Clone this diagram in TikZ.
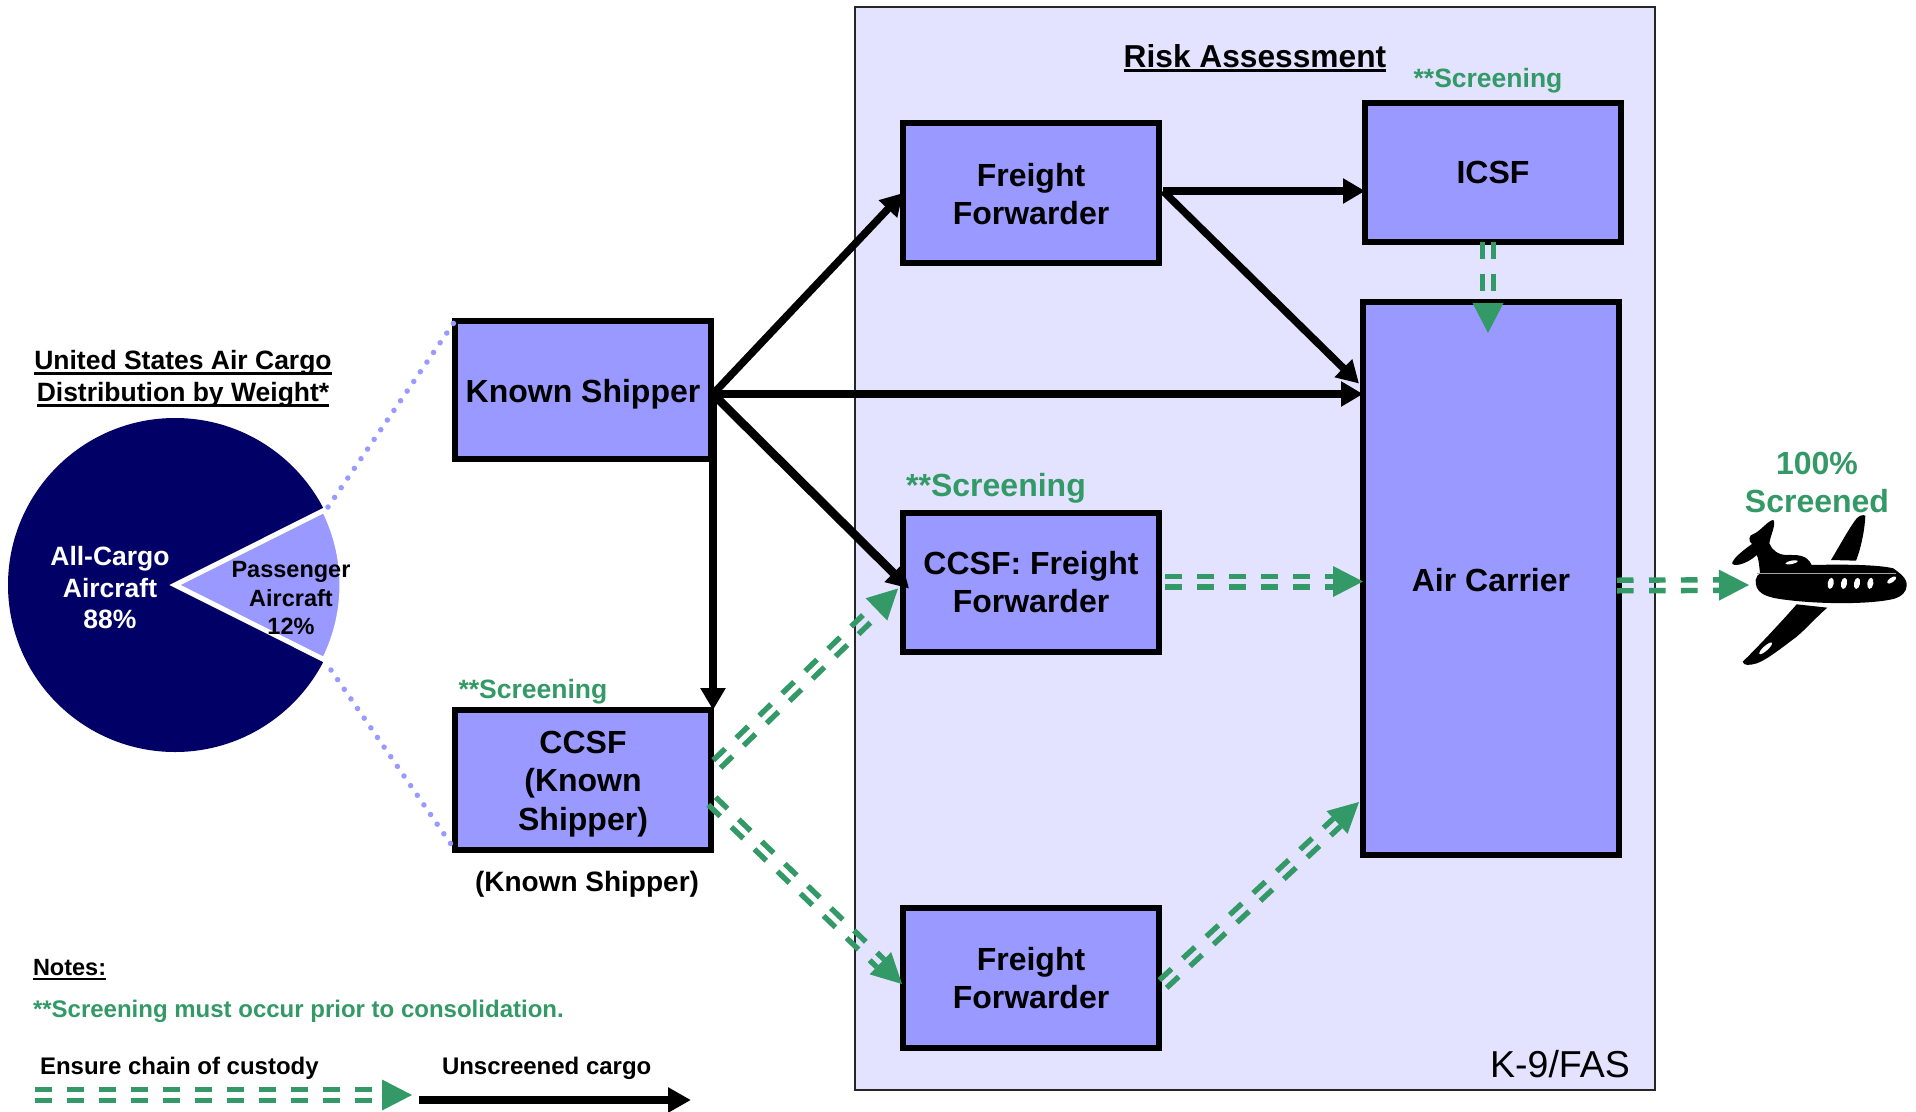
\documentclass[tikz,border=0pt]{standalone}
\usepackage{fontspec}
\setmainfont{Liberation Sans}
\usetikzlibrary{calc,arrows.meta}
\definecolor{boxfill}{HTML}{9999FF}
\definecolor{panelfill}{HTML}{E3E3FF}
\definecolor{gcol}{HTML}{339966}
\definecolor{navycol}{HTML}{000066}
\newcommand\fsz[2]{\fontsize{#1}{#2}\selectfont\bfseries}
\newcommand\ulx[1]{\setbox0=\hbox{#1}\rlap{\vrule width\wd0 height -2.4pt depth 4.8pt}\box0}
\newcommand\dn[1]{\rule{0pt}{#1pt}}
\newcommand\gflow[2]{%
  \path #1 coordinate (gA) #2 coordinate (gB);
  \coordinate (gC) at ($(gB)!30pt!(gA)$);
  \draw[gdash] ($(gA)!5.3pt!90:(gB)$) -- ($(gC)!5.3pt!90:(gB)$);
  \draw[gdash] ($(gA)!5.3pt!-90:(gB)$) -- ($(gC)!5.3pt!-90:(gB)$);
  \fill[gcol] (gB) -- ($(gC)!15.5pt!90:(gB)$) -- ($(gC)!15.5pt!-90:(gB)$) -- cycle;
}
\tikzset{
  x=1pt,y=-1pt,
  flowbox/.style={draw=black,fill=boxfill,line width=5.5pt,minimum width=256pt,inner sep=0pt,outer sep=0pt,align=center,font=\fsz{32}{38}},
  gdash/.style={draw=gcol,line width=5.4pt,dash pattern=on 16.5pt off 15.5pt},
  blackarrow/.style={draw=black,line width=7.5pt,-{Triangle[length=22pt,width=24pt]}},
  dotline/.style={draw=boxfill,line width=5.5pt,line cap=round,dash pattern=on 0pt off 11.7pt},
  label/.style={inner sep=0pt,outer sep=0pt,align=center},
  gtext/.style={label,text=gcol},
}
\begin{document}
\begin{tikzpicture}
\useasboundingbox (0,0) rectangle (1916,1111);
\fill[white] (0,0) rectangle (1916,1111);
% panel
\node[draw=black!85,fill=panelfill,line width=2.5pt,minimum width=800pt,minimum height=1083pt,inner sep=0pt,outer sep=0pt] (panel) at (1255,548.5) {};
\node[label,font=\fsz{31.7}{36}] (risk) at (1255,58) {\ulx{Risk Assessment}};
\node[label,font=\fontsize{37.5}{40}\selectfont] (k9) at (1560,1064) {K-9/FAS};
% pie
\coordinate (piec) at (175,585);
\fill[navycol] (piec) circle (167);
\filldraw[fill=boxfill,draw=white,line width=5pt,miter limit=10] (piec) -- (324.3,510.2) arc[start angle=-26.6,end angle=26.6,x radius=167,y radius=167] -- cycle;
\node[label,text=white,font=\fsz{26.5}{31.5}] (allcargo) at (110,588) {All-Cargo\\Aircraft\\88\%};
\node[label,font=\fsz{23.5}{28.5}] (pax) at (291,598) {Passenger\\Aircraft\\12\%};
\node[label,font=\fsz{26.5}{32}] (title) at (183,379) {\ulx{United States Air Cargo}\\\ulx{Distribution by Weight*}};
% boxes
\node[flowbox,minimum height=138pt] (ks) at (583,390) {\dn{32}Known Shipper};
\node[flowbox,minimum height=140pt] (ck) at (583,780) {\dn{31}CCSF\\(Known\\[0.5pt]Shipper)};
\node[flowbox,minimum height=140pt] (f1) at (1031,193) {\dn{26}Freight\\Forwarder};
\node[flowbox,minimum height=139pt] (ic) at (1493,172.5) {ICSF};
\node[flowbox,minimum height=553pt] (ac) at (1491,578.5) {\dn{26}Air Carrier};
\node[flowbox,minimum height=139pt] (cf) at (1031,582.5) {CCSF: Freight\\Forwarder};
\node[flowbox,minimum height=140pt] (fb) at (1031,978) {Freight\\Forwarder};
% dotted
\coordinate (dotA) at (328,507);
\coordinate (dotB) at (331,670);
\draw[dotline] (dotA) -- (ks.north west);
\draw[dotline] (dotB) -- (ck.south west);
% labels
\node[gtext,font=\fsz{26.5}{30}] (s1) at (1488,80.5) {**Screening};
\node[gtext,font=\fsz{32}{36}] (s2) at (996,488) {**Screening};
\node[gtext,font=\fsz{26.5}{30}] (s3) at (533,692) {**Screening};
\node[label,font=\fsz{28}{32}] (ksl) at (587,884) {(Known Shipper)};
\node[gtext,font=\fsz{32}{38}] (hund) at (1817,482) {100\%\\Screened};
\node[label,anchor=west,font=\fsz{23.5}{28}] (notes) at (33,969.5) {\ulx{Notes:}};
\node[gtext,anchor=west,font=\fsz{24}{28}] (note2) at (33,1011) {**Screening must occur prior to consolidation.};
\node[label,anchor=west,font=\fsz{24}{28}] (ens) at (40,1068) {Ensure chain of custody};
\node[label,anchor=west,font=\fsz{24}{28}] (uns) at (442,1068.5) {Unscreened cargo};
% black arrows
\coordinate (ksout) at (713,394);
\coordinate (f1out) at (1163,191);
\draw[blackarrow] (ksout) -- (ksout |- ck.north);
\draw[blackarrow] (ksout) -- (f1.west);
\draw[blackarrow] (ksout) -- (ksout -| ac.west);
\draw[blackarrow,line width=8.5pt] (ksout) -- ($(cf.west)+(6,6)$);
\draw[blackarrow] (f1out) -- (f1out -| ic.west);
\draw[blackarrow] (f1out) -- ($(ac.west)+(-4,-195)$);
% green arrows
\coordinate (nose) at (1749,585);
\gflow{($(ic.south)+(-5,0)$)}{($(ac.north)+(-3,31)$)}
\gflow{($(ck.east)+(6,-16)$)}{($(cf.west)+(-5,6)$)}
\gflow{($(ck.east)+(1,21)$)}{($(fb.west)+(-1,6)$)}
\gflow{($(cf.east)+(6,-1)$)}{($(cf.east -| ac.west)+(0,-1)$)}
\gflow{($(fb.east)+(4,6)$)}{($(ac.west)+(-4,223.5)$)}
\gflow{($(ac.east)+(-2,7)$)}{(nose)}
% legend
\coordinate (lgA) at (35,1095);
\coordinate (lgB) at (412,1095);
\coordinate (lbA) at (419,1100);
\coordinate (lbB) at (691,1100);
\gflow{(lgA)}{(lgB)}
\draw[draw=black,line width=8pt,-{Triangle[length=23pt,width=24pt]}] (lbA) -- (lbB);
% plane
\begin{scope}[shift={(1600,420)},x=0.33333pt,y=-0.33333pt]
\fill[black] (693,420) .. controls (720,375) and (750,320) .. (770,295) .. controls (778,287) and (790,283) .. (796,287) .. controls (795,320) and (785,380) .. (768,422) -- cycle;
\fill[black] (590,553) -- (682,563) .. controls (650,590) and (620,625) .. (590,650) .. controls (550,680) and (500,720) .. (470,730) .. controls (450,736) and (430,738) .. (428,725) .. controls (460,695) and (540,610) .. (590,553) -- cycle;
\fill[black] (480,460) .. controls (478,440) and (475,410) .. (470,405) .. controls (450,425) and (410,442) .. (397,432) .. controls (393,420) and (430,390) .. (456,372) .. controls (445,365) and (445,345) .. (460,342) .. controls (480,335) and (505,300) .. (520,300) .. controls (530,310) and (510,350) .. (508,370) .. controls (515,390) and (535,405) .. (560,405) .. controls (590,405) and (620,402) .. (635,435) .. controls (720,433) and (830,433) .. (880,445) .. controls (900,460) and (922,475) .. (920,497) .. controls (920,515) and (905,530) .. (880,537) .. controls (800,555) and (640,552) .. (540,537) .. controls (490,530) and (465,515) .. (467,480) .. controls (468,470) and (475,463) .. (480,460) -- cycle;
\draw[gray!70,line width=0.8pt] (470,460) -- (888,460);
\fill[white] (692,490) ellipse[x radius=9,y radius=17,rotate=-10] (732,490) ellipse[x radius=9,y radius=17,rotate=-10] (771,490) ellipse[x radius=9,y radius=17,rotate=-10] (811,490) ellipse[x radius=9,y radius=17,rotate=-10];
\fill[white] (875,480) ellipse[x radius=16,y radius=7,rotate=35];
\fill[white] (575,427) ellipse[x radius=19,y radius=5,rotate=12];
\fill[white] (497,685) ellipse[x radius=25,y radius=7,rotate=42];
\end{scope}
\end{tikzpicture}
\end{document}
